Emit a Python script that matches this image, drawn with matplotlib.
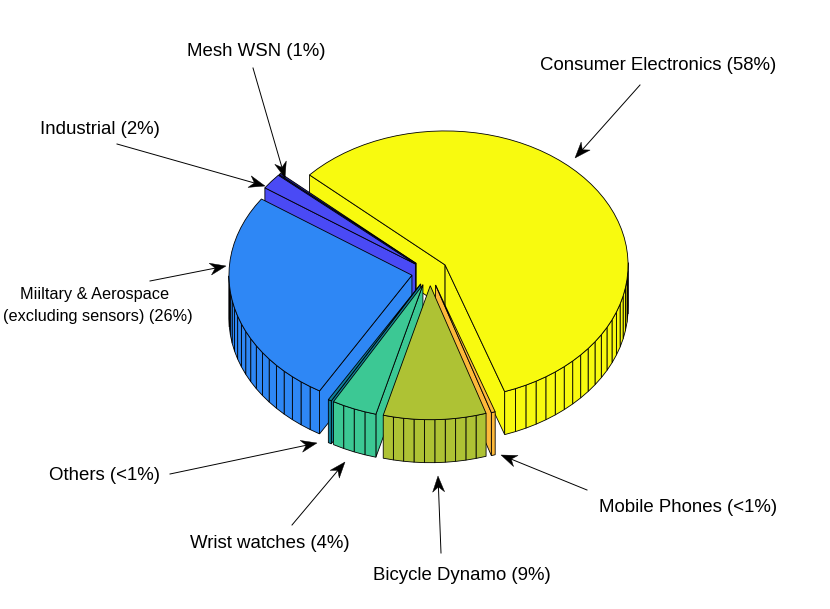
import numpy as np
import matplotlib
matplotlib.use("Agg")
import matplotlib.pyplot as plt
from matplotlib.patches import Polygon

plt.rcParams["font.family"] = ["Liberation Sans", "DejaVu Sans"]

# slices, clockwise from the back left edge of the yellow one
segmentos = ["Consumer Electronics", "Mobile Phones", "Bicycle Dynamo", "Wrist watches",
             "Others", "Military & Aerospace", "Industrial", "Mesh WSN"]
valores = [58.2, 0.35, 9.1, 4.0, 0.3, 26.3, 1.9, 0.2]
colores = ["#f8fa0f", "#fdb93a", "#aec234", "#3cc894",
           "#0f7f9a", "#2e87f5", "#4a4af5", "#1c1c8c"]
orden_dibujo = [0, 7, 6, 5, 4, 3, 1, 2]

# label text, x, y, ha, size
etiquetas = [
    ("Consumer Electronics (58%)", 540, 66, "left", 13.45),
    ("Mesh WSN (1%)", 187, 52, "left", 13.45),
    ("Industrial (2%)", 40, 130, "left", 13.45),
    ("Miiltary & Aerospace", 95, 295, "center", 11.7),
    ("(excluding sensors) (26%)", 98, 316, "center", 11.7),
    ("Others (<1%)", 49, 476, "left", 13.45),
    ("Wrist watches (4%)", 190, 543, "left", 13.45),
    ("Bicycle Dynamo (9%)", 373, 575, "left", 13.45),
    ("Mobile Phones (<1%)", 599, 508, "left", 13.45),
]
flechas = [
    (640, 85, 575, 158), (253, 68, 285, 178), (117, 144, 265, 186), (150, 281, 226, 266),
    (170, 474, 317, 443), (292, 525, 345, 462), (441, 553, 438, 476), (587, 490, 501, 455),
]

cx, cy = 429.8, 272.3
rx, ry = 183, 134
alto = 43
explode = 0.1
inicio = 137.8


def punto(ang, ox, oy, r=1.0):
    return ox + r * rx * np.cos(ang), oy - r * ry * np.sin(ang)


def flecha(ax, x0, y0, x1, y1, largo=16, ancho=6, muesca=5):
    ux, uy = (x1 - x0), (y1 - y0)
    d = np.hypot(ux, uy)
    ux, uy = ux / d, uy / d
    nx, ny = -uy, ux
    bx, by = x1 - ux * largo, y1 - uy * largo
    ax.plot([x0, bx + ux * muesca], [y0, by + uy * muesca], color="k", lw=0.7, zorder=20)
    ax.add_patch(Polygon([(x1, y1), (bx + nx * ancho, by + ny * ancho),
                          (bx + ux * muesca, by + uy * muesca),
                          (bx - nx * ancho, by - ny * ancho)],
                         closed=True, fc="k", ec="k", lw=0.3, zorder=21))


fig = plt.figure(figsize=(8.3, 6.09), dpi=100)
ax = fig.add_axes([0, 0, 1, 1])
ax.set_xlim(0, 830)
ax.set_ylim(609, 0)
ax.axis("off")

fracciones = np.array(valores) / sum(valores)
fin = np.radians(inicio) - np.cumsum(fracciones) * 2 * np.pi
ini = fin + fracciones * 2 * np.pi

z = 1
lw = 0.6
for i in orden_dibujo:
    pasos = max(1, int(np.ceil(100 * fracciones[i])))
    t = np.linspace(ini[i], fin[i], pasos + 1)
    medio = (ini[i] + fin[i]) / 2
    ox, oy = punto(medio, cx, cy, explode)
    xs, ys = punto(t, ox, oy)
    # radial walls, only the one that faces the viewer
    for j, visible in ((0, np.cos(ini[i]) < 0), (-1, np.cos(fin[i]) > 0)):
        if not visible:
            continue
        pared = [(ox, oy), (xs[j], ys[j]), (xs[j], ys[j] + alto), (ox, oy + alto)]
        ax.add_patch(Polygon(pared, closed=True, fc=colores[i], ec="k", lw=lw, zorder=z))
    # outer wall, only the facets on the front half
    for k in range(pasos):
        if np.sin((t[k] + t[k + 1]) / 2) >= 0:
            continue
        cara = [(xs[k], ys[k]), (xs[k + 1], ys[k + 1]),
                (xs[k + 1], ys[k + 1] + alto), (xs[k], ys[k] + alto)]
        ax.add_patch(Polygon(cara, closed=True, fc=colores[i], ec="k", lw=lw, zorder=z))
    tapa = [(ox, oy)] + list(zip(xs, ys))
    ax.add_patch(Polygon(tapa, closed=True, fc=colores[i], ec="k", lw=lw, zorder=z + 1))
    z += 2

for texto, x, y, ha, tam in etiquetas:
    ax.text(x, y, texto, ha=ha, va="center", fontsize=tam, color="k", zorder=22)
for f in flechas:
    flecha(ax, *f)

fig.savefig("out.png", dpi=100)
